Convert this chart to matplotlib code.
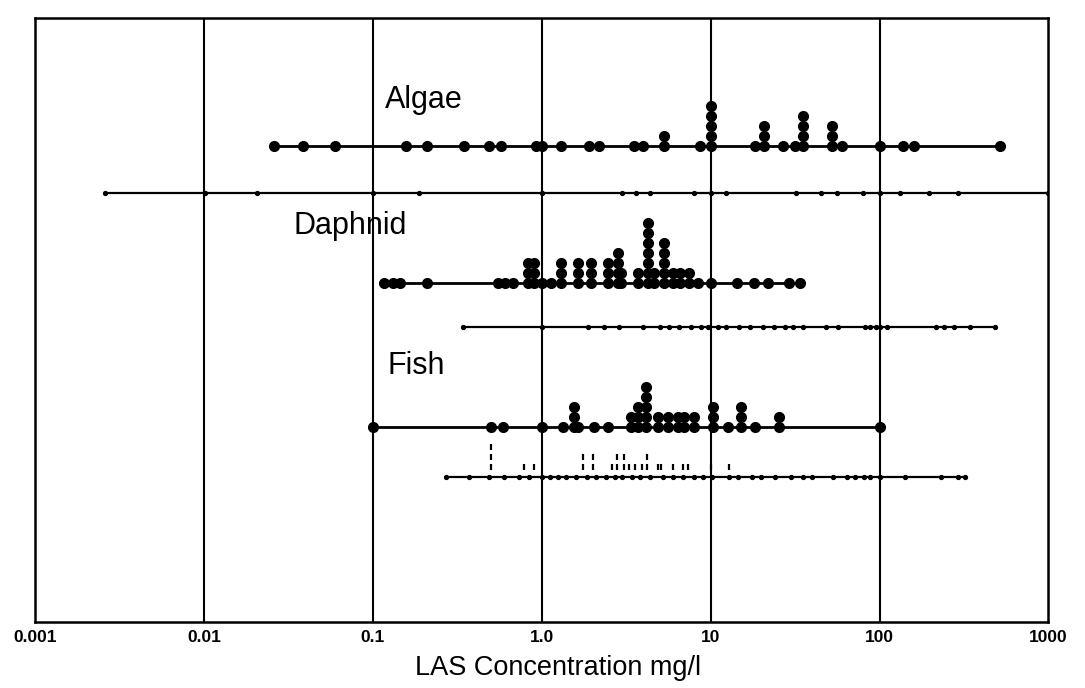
import matplotlib.pyplot as plt

# toxicity values (mg/l) and how many results share each value
algae_vals = [0.026, 0.0385, 0.060, 0.157, 0.21, 0.345, 0.486, 0.572, 0.93, 1.0, 1.30,
              1.90, 2.17, 3.5, 4.0, 5.27, 8.7, 10.1, 18.2, 20.6, 27, 31.5, 35, 52, 60,
              100, 138, 161, 520]
algae_n = [1, 1, 1, 1, 1, 1, 1, 1, 1, 1, 1,
           1, 1, 1, 1, 2, 1, 5, 1, 3, 1, 1, 4, 3, 1,
           1, 1, 1, 1]
algae_env = [0.0026, 0.0102, 0.0205, 0.1, 0.187, 1.0, 2.97, 3.6, 4.4, 8.0, 10.0, 12.3,
             32, 45, 56, 80, 100, 133, 196, 290, 1000]

daph_vals = [0.116, 0.131, 0.144, 0.21, 0.55, 0.61, 0.68, 0.83, 0.90, 1.0, 1.13, 1.30,
             1.63, 1.95, 2.46, 2.82, 2.93, 3.70, 4.24, 4.6, 5.27, 5.95, 6.6, 7.4, 8.4,
             10.1, 14.4, 18.0, 22.0, 29.0, 33.6]
daph_n = [1, 1, 1, 1, 1, 1, 1, 3, 3, 1, 1, 3,
          3, 3, 3, 4, 2, 2, 7, 2, 5, 2, 2, 2, 1,
          1, 1, 1, 1, 1, 1]
daph_env = [0.34, 1.0, 1.88, 2.33, 2.85, 4.0, 5.0, 5.7, 6.5, 7.6, 8.8, 9.6, 11.0, 12.4,
            14.8, 17.2, 20.5, 23.6, 27.6, 30.8, 35.0, 48, 57, 82, 88, 95, 101, 110,
            215, 240, 275, 345, 480]

fish_vals = [0.1, 0.50, 0.59, 1.0, 1.33, 1.55, 1.65, 2.03, 2.46, 3.36, 3.70, 4.12, 4.86,
             5.57, 6.37, 6.92, 7.93, 10.3, 12.6, 15.1, 18.4, 25.3, 100]
fish_n = [1, 1, 1, 1, 1, 3, 1, 1, 1, 2, 3, 5, 2,
          2, 2, 2, 2, 3, 1, 3, 1, 2, 1]
fish_env = [0.27, 0.37, 0.49, 0.60, 0.73, 0.84, 1.0, 1.12, 1.25, 1.4, 1.6, 1.85, 2.1,
            2.4, 2.7, 3.0, 3.4, 3.8, 4.4, 5.2, 6.0, 6.9, 8.0, 9.0, 10.2, 12.9, 14.5,
            17.5, 20, 24, 30, 35, 40, 53, 64, 72, 81, 88, 100, 142, 230, 290, 320]
fish_dash_vals = [0.50, 0.78, 0.90, 1.76, 2.02, 2.60, 2.80, 3.05, 3.30, 3.55, 3.90,
                  4.20, 4.90, 5.05, 6.0, 6.9, 7.3, 10.0, 12.9]
fish_dash_n = [3, 1, 1, 2, 2, 1, 2, 2, 1, 1, 1, 2, 1, 1, 1, 1, 1, 1, 1]

labels = ['Algae', 'Daphnid', 'Fish']
decades = [0.001, 0.01, 0.1, 1.0, 10, 100, 1000]
decade_labels = ['0.001', '0.01', '0.1', '1.0', '10', '100', '1000']

fig = plt.figure(figsize=(10.85, 6.88), dpi=100)
ax = fig.add_axes([0.0323, 0.096, 0.934, 0.878])
ax.set_xscale('log')
ax.set_xlim(0.001, 1000)
ax.set_ylim(622, 18)

for d in decades[1:-1]:
    ax.axvline(d, color='black', lw=1.5, zorder=1)


def thick_row(vals, counts, y):
    ax.plot([min(vals), max(vals)], [y, y], color='black', lw=2.0, zorder=2)
    for v, n in zip(vals, counts):
        ys = [y - 10 * k for k in range(n)]
        ax.plot([v] * n, ys, color='black', lw=1.5, marker='o', ms=7,
                linestyle='-', zorder=3)


def thin_row(vals, y):
    ax.plot([min(vals), max(vals)], [y, y], color='black', lw=1.6, zorder=2)
    ax.plot(vals, [y] * len(vals), 'o', color='black', ms=2.8, zorder=3)


thick_row(algae_vals, algae_n, 146)
thin_row(algae_env, 193)
thick_row(daph_vals, daph_n, 283)
thin_row(daph_env, 327)
thick_row(fish_vals, fish_n, 427)
thin_row(fish_env, 477)

for v, n in zip(fish_dash_vals, fish_dash_n):
    ys = [477 - 10 * (k + 1) for k in range(n)]
    ax.plot([v] * n, ys, linestyle='none', marker='|', ms=5, mew=1.6,
            color='black', zorder=3)

label_pos = [(0.118, 100), (0.034, 226), (0.122, 366)]
for name, (lx, ly) in zip(labels, label_pos):
    ax.text(lx, ly, name, fontsize=22, family='Liberation Sans',
            va='center', ha='left')

ax.set_xticks(decades)
ax.set_xticklabels(decade_labels, fontsize=12.5, fontweight='bold',
                   family='Liberation Sans')
ax.minorticks_off()
ax.tick_params(axis='x', length=0, pad=6)
ax.set_yticks([])
for s in ax.spines.values():
    s.set_linewidth(1.8)
ax.set_xlabel('LAS Concentration mg/l', fontsize=19.5, family='Liberation Sans')
ax.xaxis.set_label_coords(0.516, -0.055)

fig.savefig('out.png', dpi=100)
